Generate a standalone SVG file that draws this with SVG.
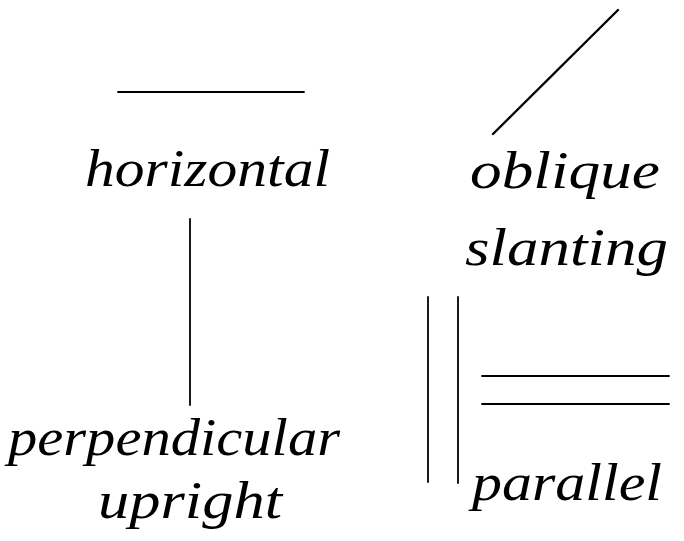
<svg xmlns="http://www.w3.org/2000/svg" width="684" height="541" viewBox="0 0 684 541">
<style>
.ln{stroke:#000;stroke-width:1.8;fill:none;stroke-linecap:round}
.lb{font-family:"Liberation Serif","DejaVu Serif",serif;font-style:italic;font-size:52px;fill:#000}
</style>
<rect width="684" height="541" fill="#fff"/>
<g id="lines">
<line class="ln" x1="118" y1="92" x2="304" y2="92"/>
<line class="ln" x1="618" y1="10" x2="493" y2="134" style="stroke-width:2.4"/>
<line class="ln" x1="190" y1="219" x2="190" y2="405"/>
<line class="ln" x1="428" y1="297" x2="428" y2="482"/>
<line class="ln" x1="458" y1="297" x2="458" y2="483"/>
<line class="ln" x1="482" y1="376" x2="669" y2="376"/>
<line class="ln" x1="482" y1="404" x2="669" y2="404"/>
</g>
<g id="labels">
<text class="lb" x="85" y="186" textLength="245" lengthAdjust="spacingAndGlyphs">horizontal</text>
<text class="lb" x="470" y="188" textLength="190" lengthAdjust="spacingAndGlyphs">oblique</text>
<text class="lb" x="465" y="265" textLength="203" lengthAdjust="spacingAndGlyphs">slanting</text>
<text class="lb" x="8" y="455" textLength="332" lengthAdjust="spacingAndGlyphs">perpendicular</text>
<text class="lb" x="98" y="518" textLength="184" lengthAdjust="spacingAndGlyphs">upright</text>
<text class="lb" x="472" y="500" textLength="190" lengthAdjust="spacingAndGlyphs">parallel</text>
</g>
</svg>
